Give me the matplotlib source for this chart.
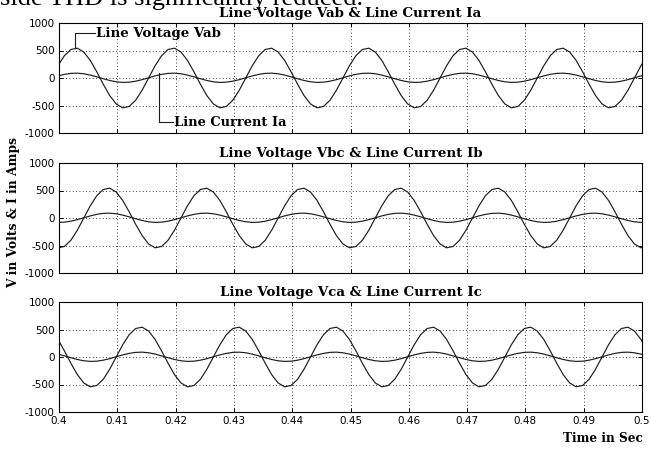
import numpy as np
import matplotlib
matplotlib.use("Agg")
import matplotlib.pyplot as plt

# ---------------- data ----------------
sample_start = 0.3987          # s, time of first sample
sample_step = 1.0 / 900.0      # s, sample spacing

v_ab = [0, 222, 405, 518, 542, 472, 320, 113, -113, -320, -472, -542, -518, -405, -222,
        0, 222, 405, 518, 542, 472, 320, 113, -113, -320, -472, -542, -518, -405, -222,
        0, 222, 405, 518, 542, 472, 320, 113, -113, -320, -472, -542, -518, -405, -222,
        0, 222, 405, 518, 542, 472, 320, 113, -113, -320, -472, -542, -518, -405, -222,
        0, 222, 405, 518, 542, 472, 320, 113, -113, -320, -472, -542, -518, -405, -222,
        0, 222, 405, 518, 542, 472, 320, 113, -113, -320, -472, -542, -518, -405, -222,
        0, 222, 405]
v_bc = [-472, -542, -518, -405, -222, 0, 222, 405, 518, 542, 472, 320, 113, -113, -320,
        -472, -542, -518, -405, -222, 0, 222, 405, 518, 542, 472, 320, 113, -113, -320,
        -472, -542, -518, -405, -222, 0, 222, 405, 518, 542, 472, 320, 113, -113, -320,
        -472, -542, -518, -405, -222, 0, 222, 405, 518, 542, 472, 320, 113, -113, -320,
        -472, -542, -518, -405, -222, 0, 222, 405, 518, 542, 472, 320, 113, -113, -320,
        -472, -542, -518, -405, -222, 0, 222, 405, 518, 542, 472, 320, 113, -113, -320,
        -472, -542, -518]
v_ca = [472, 320, 113, -113, -320, -472, -542, -518, -405, -222, 0, 222, 405, 518, 542,
        472, 320, 113, -113, -320, -472, -542, -518, -405, -222, 0, 222, 405, 518, 542,
        472, 320, 113, -113, -320, -472, -542, -518, -405, -222, 0, 222, 405, 518, 542,
        472, 320, 113, -113, -320, -472, -542, -518, -405, -222, 0, 222, 405, 518, 542,
        472, 320, 113, -113, -320, -472, -542, -518, -405, -222, 0, 222, 405, 518, 542,
        472, 320, 113, -113, -320, -472, -542, -518, -405, -222, 0, 222, 405, 518, 542,
        472, 320, 113]
i_a = [4, 38, 66, 84, 88, 77, 53, 21, -13, -45, -69, -80, -76, -58, -30,
       4, 38, 66, 84, 88, 77, 53, 21, -13, -45, -69, -80, -76, -58, -30,
       4, 38, 66, 84, 88, 77, 53, 21, -13, -45, -69, -80, -76, -58, -30,
       4, 38, 66, 84, 88, 77, 53, 21, -13, -45, -69, -80, -76, -58, -30,
       4, 38, 66, 84, 88, 77, 53, 21, -13, -45, -69, -80, -76, -58, -30,
       4, 38, 66, 84, 88, 77, 53, 21, -13, -45, -69, -80, -76, -58, -30,
       4, 38, 66]
i_b = [-69, -80, -76, -58, -30, 4, 38, 66, 84, 88, 77, 53, 21, -13, -45,
       -69, -80, -76, -58, -30, 4, 38, 66, 84, 88, 77, 53, 21, -13, -45,
       -69, -80, -76, -58, -30, 4, 38, 66, 84, 88, 77, 53, 21, -13, -45,
       -69, -80, -76, -58, -30, 4, 38, 66, 84, 88, 77, 53, 21, -13, -45,
       -69, -80, -76, -58, -30, 4, 38, 66, 84, 88, 77, 53, 21, -13, -45,
       -69, -80, -76, -58, -30, 4, 38, 66, 84, 88, 77, 53, 21, -13, -45,
       -69, -80, -76]
i_c = [77, 53, 21, -13, -45, -69, -80, -76, -58, -30, 4, 38, 66, 84, 88,
       77, 53, 21, -13, -45, -69, -80, -76, -58, -30, 4, 38, 66, 84, 88,
       77, 53, 21, -13, -45, -69, -80, -76, -58, -30, 4, 38, 66, 84, 88,
       77, 53, 21, -13, -45, -69, -80, -76, -58, -30, 4, 38, 66, 84, 88,
       77, 53, 21, -13, -45, -69, -80, -76, -58, -30, 4, 38, 66, 84, 88,
       77, 53, 21, -13, -45, -69, -80, -76, -58, -30, 4, 38, 66, 84, 88,
       77, 53, 21]

titles = ["Line Voltage Vab & Line Current Ia",
          "Line Voltage Vbc & Line Current Ib",
          "Line Voltage Vca & Line Current Ic"]
x_ticks = [0.4, 0.41, 0.42, 0.43, 0.44, 0.45, 0.46, 0.47, 0.48, 0.49, 0.5]
x_tick_labels = ["0.4", "0.41", "0.42", "0.43", "0.44", "0.45", "0.46",
                 "0.47", "0.48", "0.49", "0.5"]
y_ticks = [-1000, -500, 0, 500, 1000]
y_tick_labels = ["-1000", "-500", "0", "500", "1000"]
y_label = "V in Volts & I in Amps"
x_label = "Time in Sec"
header_text = "side THD is significantly reduced."
volt_note = "Line Voltage Vab"
curr_note = "Line Current Ia"

# ---------------- figure ----------------
W, H = 651, 450
fig = plt.figure(figsize=(W / 100, H / 100), dpi=100)
fig.patch.set_facecolor("white")

serif_bold = dict(family="DejaVu Serif", weight="bold")
line_col = "#1c1c1c"

t = sample_start + np.arange(len(v_ab)) * sample_step
volts = [v_ab, v_bc, v_ca]
amps = [i_a, i_b, i_c]
tops = [23, 163, 302]
left_px, right_px, h_px = 59, 642, 110

axes = []
for k in range(3):
    ax = fig.add_axes([left_px / W, 1 - (tops[k] + h_px) / H,
                       (right_px - left_px) / W, h_px / H])
    ax.plot(t, np.array(volts[k]), color=line_col, lw=0.85)
    ax.plot(t, np.array(amps[k]), color=line_col, lw=0.85)
    ax.set_xlim(0.4, 0.5)
    ax.set_ylim(-1000, 1000)
    ax.set_xticks(x_ticks)
    ax.set_yticks(y_ticks)
    ax.set_yticklabels(y_tick_labels)
    if k == 2:
        ax.set_xticklabels(x_tick_labels)
    else:
        ax.set_xticklabels([])
    ax.grid(True, linestyle=(0, (1, 3)), color="black", lw=0.6)
    ax.tick_params(direction="in", top=True, right=True, length=3, width=0.7,
                   labelsize=7.5, pad=3)
    for lab in ax.get_xticklabels() + ax.get_yticklabels():
        lab.set_family("DejaVu Sans")
    for s in ax.spines.values():
        s.set_linewidth(0.8)
    ax.set_title(titles[k], fontsize=9.6, pad=4, **serif_bold)
    axes.append(ax)

# annotations in the top panel
ax0 = axes[0]
ax0.plot([0.40269, 0.40269, 0.40612], [545, 818, 818], color=line_col, lw=0.8)
ax0.text(0.4064, 818, volt_note, va="center", ha="left", fontsize=9.6, **serif_bold)
ax0.plot([0.41711, 0.41711, 0.41951], [91, -800, -800], color=line_col, lw=0.8)
ax0.text(0.4198, -800, curr_note, va="center", ha="left", fontsize=9.4, **serif_bold)

fig.text(14 / W, 1 - 212 / H, y_label, rotation=90, ha="center", va="center",
         fontsize=8.8, **serif_bold)
fig.text(643 / W, 1 - 438 / H, x_label, ha="right", va="center",
         fontsize=8.7, **serif_bold)
fig.text(0, 1 - 4.5 / H, header_text, ha="left", va="baseline",
         fontsize=19, family="Liberation Serif")

fig.savefig("out.png", dpi=100)
